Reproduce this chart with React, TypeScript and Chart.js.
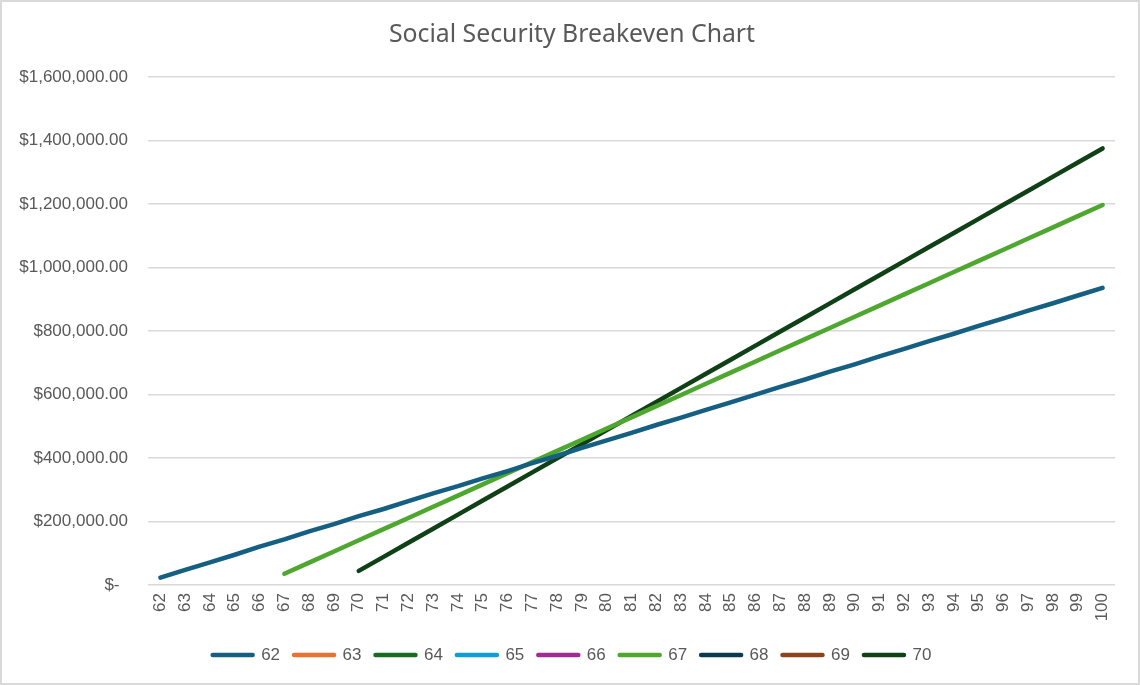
import React, { useEffect, useRef } from "react";
import { Chart, registerables } from "chart.js";

Chart.register(...registerables);

const ages: string[] = [
  "62", "63", "64", "65", "66", "67", "68", "69", "70", "71", "72", "73", "74",
  "75", "76", "77", "78", "79", "80", "81", "82", "83", "84", "85", "86", "87",
  "88", "89", "90", "91", "92", "93", "94", "95", "96", "97", "98", "99", "100",
];

const seriesNames: string[] = ["62", "63", "64", "65", "66", "67", "68", "69", "70"];

const seriesColors: string[] = [
  "#156082", "#E97132", "#196B24", "#0F9ED5", "#A02B93",
  "#4EA72E", "#0D3A4E", "#8C441E", "#0F4016",
];

const claim62: (number | null)[] = [
  23400, 47900, 71100, 95300, 120800, 143600, 168900, 191500, 216800, 239400,
  263900, 288700, 311200, 335800, 358900, 383700, 407100, 431600, 455400, 479200,
  503900, 527100, 551800, 575200, 599600, 623900, 647200, 671800, 695100, 719800,
  743400, 767900, 791200, 815800, 839500, 863900, 887400, 911800, 936000,
];

const claim63: (number | null)[] = [];
const claim64: (number | null)[] = [];
const claim65: (number | null)[] = [];
const claim66: (number | null)[] = [];

const claim67: (number | null)[] = [
  null, null, null, null, null,
  35200, 70400, 105600, 140800, 176000, 211200, 246400, 281600, 316800, 352000,
  387200, 422400, 457600, 492800, 528000, 563200, 598400, 633600, 668800, 704000,
  739200, 774400, 809600, 844800, 880000, 915200, 950400, 985600, 1020800, 1056000,
  1091200, 1126400, 1161600, 1196800,
];

const claim68: (number | null)[] = [];
const claim69: (number | null)[] = [];

const claim70: (number | null)[] = [
  null, null, null, null, null, null, null, null,
  44350, 88700, 133050, 177400, 221750, 266100, 310450, 354800, 399150, 443500,
  487850, 532200, 576550, 620900, 665250, 709600, 753950, 798300, 842650, 887000,
  931350, 975700, 1020050, 1064400, 1108750, 1153100, 1197450, 1241800, 1286150,
  1330500, 1374850,
];

const seriesValues = [
  claim62, claim63, claim64, claim65, claim66, claim67, claim68, claim69, claim70,
];

const yMin = 0;
const yMax = 1600000;
const yStep = 200000;

const chartTitle = "Social Security Breakeven Chart";

const TEXT = "#595959";
const GRID = "#D9D9D9";
const TICK_FONT = "'Liberation Sans', Arial, sans-serif";
const TITLE_FONT = "'Noto Sans', 'Open Sans', sans-serif";

function formatMoney(v: number): string {
  if (v === 0) return "$-\u2002";
  return "$" + v.toLocaleString("en-US", { minimumFractionDigits: 2, maximumFractionDigits: 2 });
}

export default function App() {
  const canvasRef = useRef<HTMLCanvasElement | null>(null);

  useEffect(() => {
    document.body.style.margin = "0";
    const canvas = canvasRef.current;
    if (!canvas) return;

    const chart = new Chart(canvas, {
      type: "line",
      data: {
        labels: ages,
        datasets: seriesNames.map((name, i) => ({
          label: name,
          data: seriesValues[i],
          borderColor: seriesColors[i],
          backgroundColor: seriesColors[i],
          borderWidth: 4.5,
          borderCapStyle: "round" as const,
          borderJoinStyle: "round" as const,
          pointRadius: 0,
          pointHoverRadius: 0,
          fill: false,
          tension: 0,
          yAxisID: "y",
        })),
      },
      options: {
        animation: false,
        responsive: true,
        maintainAspectRatio: false,
        layout: { padding: { left: 4, right: 0, top: 0, bottom: 11.5 } },
        plugins: {
          tooltip: { enabled: false },
          title: {
            display: true,
            text: chartTitle,
            color: TEXT,
            font: { family: TITLE_FONT, size: 24.8, weight: "normal" },
            padding: { top: 20, bottom: 27.2 },
          },
          legend: {
            display: true,
            position: "bottom",
            labels: {
              color: TEXT,
              font: { family: TICK_FONT, size: 17 },
              usePointStyle: true,
              pointStyle: "line",
              pointStyleWidth: 40,
              padding: 14,
              generateLabels: (c: any) =>
                c.data.datasets.map((ds: any, i: number) => ({
                  text: ds.label,
                  fillStyle: ds.borderColor,
                  strokeStyle: ds.borderColor,
                  lineWidth: 4.5,
                  lineCap: "round",
                  pointStyle: "line",
                  hidden: false,
                  datasetIndex: i,
                  fontColor: TEXT,
                })),
            },
          },
        },
        scales: {
          x: {
            type: "category",
            offset: true,
            grid: { display: false, drawTicks: false },
            border: { display: false },
            ticks: {
              color: TEXT,
              font: { family: TICK_FONT, size: 17 },
              minRotation: 90,
              maxRotation: 90,
              autoSkip: false,
              padding: 8,
            },
            afterFit: (scale: any) => {
              scale.height = 47.5;
            },
          },
          y: {
            position: "left",
            min: yMin,
            max: yMax,
            grid: { color: GRID, lineWidth: 1.5, drawTicks: false },
            border: { display: false },
            ticks: {
              stepSize: yStep,
              color: TEXT,
              font: { family: TICK_FONT, size: 17 },
              padding: 20,
              callback: (v: any) => formatMoney(Number(v)),
            },
            afterFit: (scale: any) => {
              scale.width = 144;
            },
          },
          yRight: {
            position: "right",
            display: true,
            min: yMin,
            max: yMax,
            grid: { display: false, drawTicks: false },
            border: { display: false },
            ticks: { display: false },
            afterFit: (scale: any) => {
              scale.width = 25;
            },
          },
        },
      },
    });

    return () => {
      chart.destroy();
    };
  }, []);

  return (
    <div style={{ position: "relative", width: 1140, height: 685, background: "#ffffff" }}>
      <canvas ref={canvasRef} />
      <div
        style={{
          position: "absolute",
          left: 0,
          top: 0,
          right: 0,
          bottom: 0,
          border: "2px solid #D9D9D9",
          boxSizing: "border-box",
          pointerEvents: "none",
        }}
      />
    </div>
  );
}
